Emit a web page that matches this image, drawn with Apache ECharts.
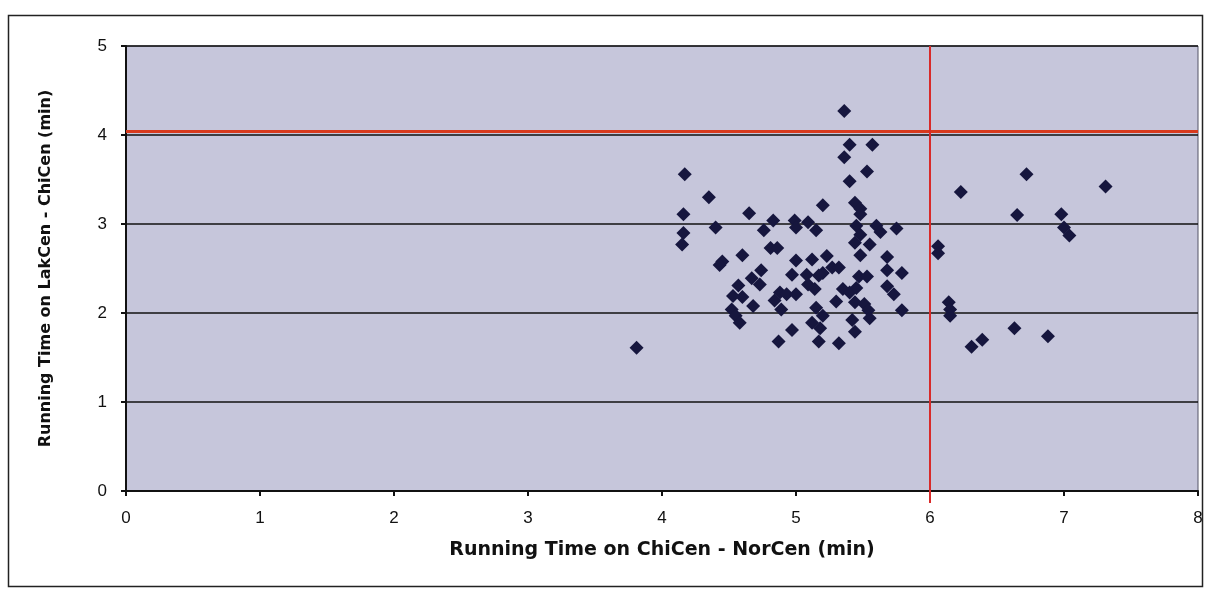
<!DOCTYPE html>
<html>
<head>
<meta charset="utf-8">
<script src="https://cdn.jsdelivr.net/npm/echarts@6/dist/echarts.min.js"></script>
<style>
html,body{margin:0;padding:0;background:#fff;}
#chart{width:1211px;height:590px;}
</style>
</head>
<body>
<div id="chart"></div>
<script>
// Running Time on ChiCen - NorCen (min)
const xValues = [5.36,5.40,5.57,5.36,5.53,5.40,4.17,4.35,5.20,5.44,5.48,5.48,4.16,4.65,4.40,4.16,4.15,4.83,4.76,4.99,5.00,5.09,5.15,4.81,4.86,4.60,4.45,4.43,5.45,5.48,5.44,5.60,5.63,5.75,5.55,5.48,5.68,5.68,5.79,5.00,5.12,5.23,5.27,5.32,5.20,5.17,5.08,4.97,5.47,5.53,4.74,4.67,4.73,4.57,4.88,4.93,5.00,4.84,4.89,4.68,4.60,4.53,4.52,4.55,4.58,5.09,5.14,5.15,5.20,5.12,5.18,4.97,4.87,5.17,5.32,5.30,5.35,5.40,5.45,5.44,5.51,5.54,5.55,5.42,5.44,5.68,5.73,5.79,3.81,6.72,6.23,7.31,6.65,6.98,7.00,7.04,6.06,6.06,6.14,6.15,6.15,6.63,6.88,6.31,6.39];
// Running Time on LakCen - ChiCen (min)
const yValues = [4.27,3.89,3.89,3.75,3.59,3.48,3.56,3.30,3.21,3.24,3.17,3.11,3.11,3.12,2.96,2.90,2.77,3.04,2.93,3.04,2.96,3.02,2.93,2.73,2.73,2.65,2.58,2.54,2.98,2.88,2.79,2.98,2.91,2.95,2.77,2.65,2.63,2.48,2.45,2.59,2.60,2.64,2.51,2.51,2.45,2.42,2.43,2.43,2.41,2.41,2.48,2.39,2.32,2.31,2.23,2.21,2.21,2.14,2.04,2.08,2.18,2.19,2.04,1.97,1.89,2.32,2.27,2.06,1.97,1.89,1.83,1.81,1.68,1.68,1.66,2.13,2.27,2.23,2.28,2.12,2.10,2.03,1.94,1.92,1.79,2.30,2.21,2.03,1.61,3.56,3.36,3.42,3.10,3.11,2.96,2.87,2.75,2.67,2.12,2.04,1.97,1.83,1.74,1.62,1.70];
const xTicks = [0,1,2,3,4,5,6,7,8];
const yTicks = [0,1,2,3,4,5];
const redX = 6;
const redY = 4.04;

const points = xValues.map((x, i) => [x, yValues[i]]);

const chart = echarts.init(document.getElementById('chart'), null, {renderer: 'canvas'});
const tickFont = '"Liberation Sans", Arial, sans-serif';
const titleFont = '"DejaVu Sans", "Liberation Sans", sans-serif';
chart.setOption({
  animation: false,
  backgroundColor: '#ffffff',
  grid: {
    left: 126, right: 13, top: 46, bottom: 99,
    show: true, backgroundColor: '#c6c6db', borderColor: '#555566', borderWidth: 1
  },
  xAxis: {
    type: 'value', min: xTicks[0], max: xTicks[xTicks.length - 1], interval: 1,
    name: 'Running Time on ChiCen - NorCen (min)',
    nameLocation: 'middle', nameGap: 50,
    nameTextStyle: {fontFamily: titleFont, fontWeight: 'bold', fontSize: 19, color: '#111'},
    axisLine: {show: true, onZero: false, lineStyle: {color: '#111', width: 2}},
    axisTick: {show: true, inside: false, length: 5, lineStyle: {color: '#111', width: 2}},
    axisLabel: {fontFamily: tickFont, fontSize: 17, color: '#111', margin: 19},
    splitLine: {show: false}
  },
  yAxis: {
    type: 'value', min: yTicks[0], max: yTicks[yTicks.length - 1], interval: 1,
    name: 'Running Time on LakCen - ChiCen (min)',
    nameLocation: 'middle', nameGap: 72, nameRotate: 90,
    nameTextStyle: {fontFamily: titleFont, fontWeight: 'bold', fontSize: 16, color: '#111'},
    axisLine: {show: true, onZero: false, lineStyle: {color: '#111', width: 2}},
    axisTick: {show: true, inside: false, length: 5, lineStyle: {color: '#111', width: 2}},
    axisLabel: {fontFamily: tickFont, fontSize: 17, color: '#111', margin: 19},
    splitLine: {show: true, lineStyle: {color: '#111', width: 1.5}}
  },
  series: [{
    type: 'scatter',
    data: points,
    symbol: 'diamond',
    symbolSize: 14,
    itemStyle: {color: '#16163e', opacity: 1},
    z: 3,
    markLine: {
      silent: true, symbol: 'none', animation: false,
      label: {show: false},
      data: [
        [{coord: [xTicks[0], redY], lineStyle: {color: '#d83a1e', width: 3, type: 'solid'}},
         {coord: [xTicks[xTicks.length - 1], redY]}],
        [{coord: [redX, yTicks[0]], lineStyle: {color: '#d82a2a', width: 2, type: 'solid'}},
         {coord: [redX, yTicks[yTicks.length - 1]]}]
      ]
    }
  }]
});
// outer frame, and the red vertical line extended slightly below the x axis as in the original
const base = chart.convertToPixel({gridIndex: 0}, [redX, yTicks[0]]);
chart.setOption({
  graphic: [{
    type: 'rect', shape: {x: 8.5, y: 15.5, width: 1194, height: 571},
    style: {fill: 'none', stroke: '#222', lineWidth: 1.5}, z: -1
  }, {
    type: 'line', shape: {x1: base[0], y1: base[1], x2: base[0], y2: base[1] + 12},
    style: {stroke: '#d82a2a', lineWidth: 2}, z: 10
  }]
});
</script>
</body>
</html>
